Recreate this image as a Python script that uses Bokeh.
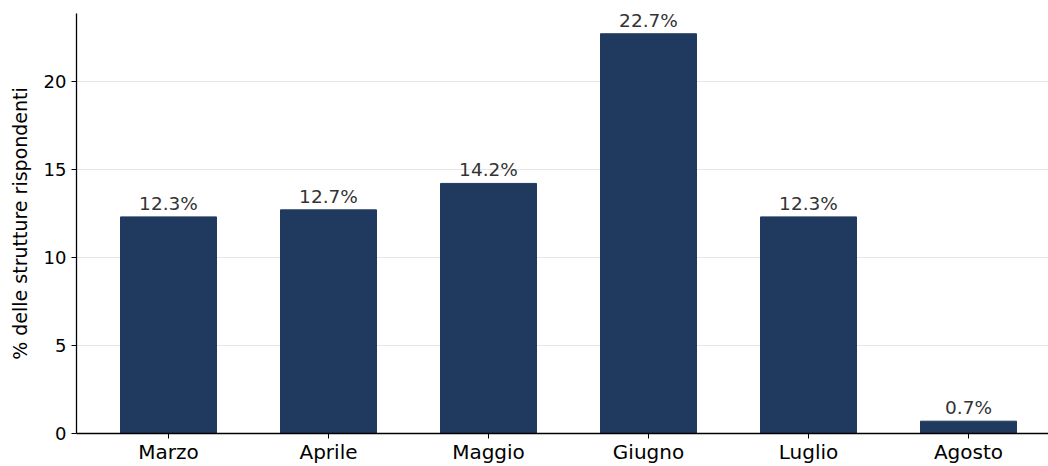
from bokeh.plotting import figure
from bokeh.models import ColumnDataSource, Range1d, FixedTicker, LabelSet
from bokeh.core.properties import value
from bokeh.embed import file_html
from bokeh.resources import INLINE

months = ["Marzo", "Aprile", "Maggio", "Giugno", "Luglio", "Agosto"]
values = [12.3, 12.7, 14.2, 22.7, 12.3, 0.7]
labels = [f"{v:.1f}%" for v in values]
y_ticks = [0, 5, 10, 15, 20]

xs = list(range(len(months)))
src = ColumnDataSource(dict(x=xs, top=values, label=labels))

p = figure(width=1048, height=466, output_backend="svg", toolbar_location=None,
           x_range=Range1d(-0.575, 5.5), y_range=Range1d(0, 23.85),
           min_border_left=76, min_border_right=0, min_border_top=13, min_border_bottom=0)
p.outline_line_color = None
p.background_fill_color = "white"
p.border_fill_color = "white"

p.vbar(x="x", top="top", width=0.6, bottom=0, source=src, color="#1f3a5e")

lbl = LabelSet(x="x", y="top", text="label", source=src, text_align="center",
               text_baseline="bottom", y_offset=3, text_color="#333333",
               text_font_size="18.5px", text_font=value("DejaVu Sans"))
p.add_layout(lbl)

p.xaxis.ticker = FixedTicker(ticks=xs)
p.xaxis.major_label_overrides = {i: m for i, m in enumerate(months)}
p.yaxis.ticker = FixedTicker(ticks=y_ticks)
p.xgrid.visible = False
p.ygrid.grid_line_color = "#e6e6e6"
p.ygrid.grid_line_width = 1

for ax in (p.xaxis, p.yaxis):
    ax.axis_line_color = "black"
    ax.axis_line_width = 1.3
    ax.major_tick_line_color = "black"
    ax.major_tick_out = 5
    ax.major_tick_in = 0
    ax.minor_tick_line_color = None
    ax.major_label_text_font = "DejaVu Sans"
    ax.major_label_text_color = "black"

p.xaxis.major_label_text_font_size = "20px"
p.yaxis.major_label_text_font_size = "18px"
p.xaxis.major_label_standoff = 1
p.yaxis.major_label_standoff = 5
p.yaxis.axis_label = "% delle strutture rispondenti"
p.yaxis.axis_label_text_font = "DejaVu Sans"
p.yaxis.axis_label_text_font_size = "19px"
p.yaxis.axis_label_text_font_style = "normal"
p.yaxis.axis_label_text_color = "black"
p.yaxis.axis_label_standoff = 10

open("out.html", "w").write(file_html(p, INLINE))
